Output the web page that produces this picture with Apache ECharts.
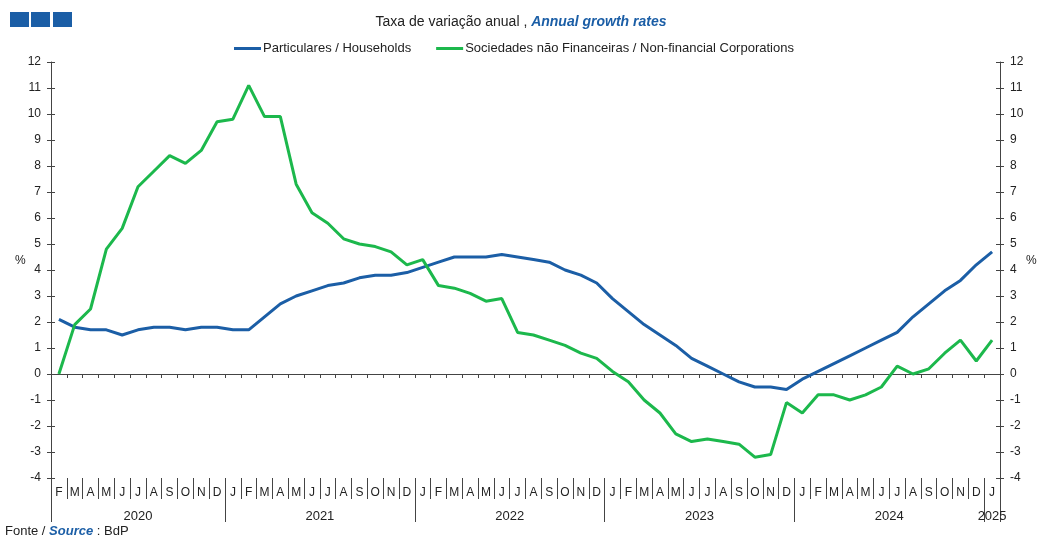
<!DOCTYPE html>
<html>
<head>
<meta charset="utf-8">
<script src="https://cdn.jsdelivr.net/npm/echarts@6/dist/echarts.min.js"></script>
<style>
html,body{margin:0;padding:0;background:#fff;}
#chart{width:1042px;height:538px;}
</style>
</head>
<body>
<div id="chart"></div>
<script>
// Months Feb 2020 .. Jan 2025
const months = ['F','M','A','M','J','J','A','S','O','N','D',
  'J','F','M','A','M','J','J','A','S','O','N','D',
  'J','F','M','A','M','J','J','A','S','O','N','D',
  'J','F','M','A','M','J','J','A','S','O','N','D',
  'J','F','M','A','M','J','J','A','S','O','N','D',
  'J'];
const years = ['2020','2021','2022','2023','2024','2025'];
const yearLabelPos = [5.5, 17, 29, 41, 53, 59.5];
const yearBoundaries = [0, 11, 23, 35, 47, 59, 60];

const households = [2.1,1.8,1.7,1.7,1.5,1.7,1.8,1.8,1.7,1.8,1.8,
  1.7,1.7,2.2,2.7,3.0,3.2,3.4,3.5,3.7,3.8,3.8,3.9,
  4.1,4.3,4.5,4.5,4.5,4.6,4.5,4.4,4.3,4.0,3.8,3.5,
  2.9,2.4,1.9,1.5,1.1,0.6,0.3,0.0,-0.3,-0.5,-0.5,-0.6,
  -0.2,0.1,0.4,0.7,1.0,1.3,1.6,2.2,2.7,3.2,3.6,4.2,
  4.7];
const nfc = [0.0,1.9,2.5,4.8,5.6,7.2,7.8,8.4,8.1,8.6,9.7,
  9.8,11.1,9.9,9.9,7.3,6.2,5.8,5.2,5.0,4.9,4.7,4.2,
  4.4,3.4,3.3,3.1,2.8,2.9,1.6,1.5,1.3,1.1,0.8,0.6,
  0.1,-0.3,-1.0,-1.5,-2.3,-2.6,-2.5,-2.6,-2.7,-3.2,-3.1,-1.1,
  -1.5,-0.8,-0.8,-1.0,-0.8,-0.5,0.3,0.0,0.2,0.8,1.3,0.5,
  1.3];

const BLUE = '#1b5ea6';
const GREEN = '#1cb84c';
const AX = '#444';
const FONT = 'Liberation Sans, Arial, sans-serif';

const chart = echarts.init(document.getElementById('chart'), null, {renderer:'canvas'});
const yBase = {
  type:'value', min:-4, max:12, interval:1,
  splitLine:{show:false},
  axisLine:{show:true, lineStyle:{color:AX, width:1}},
  axisTick:{show:true, length:4, lineStyle:{color:AX}},
  axisLabel:{color:'#222', fontSize:12, fontFamily:FONT, margin:10}
};
const yInner = {
  type:'value', min:-4, max:12, interval:1,
  splitLine:{show:false},
  axisLine:{show:false},
  axisTick:{show:true, inside:true, length:4, lineStyle:{color:AX}},
  axisLabel:{show:false}
};
chart.setOption({
  animation:false,
  backgroundColor:'#fff',
  title:{
    left:'center', top:10,
    text:'{a|Taxa de variação anual , }{b|Annual growth rates}',
    textStyle:{
      fontWeight:'normal',
      rich:{
        a:{fontSize:14, color:'#222', fontWeight:'normal', fontFamily:FONT},
        b:{fontSize:14, color:BLUE, fontWeight:'bold', fontStyle:'italic', fontFamily:FONT}
      }
    }
  },
  legend:{
    left:229, top:37,
    itemWidth:27, itemHeight:3, itemGap:25,
    icon:'rect',
    textStyle:{fontSize:13, color:'#222', fontFamily:FONT, padding:[0,0,0,-3]},
    data:['Particulares / Households','Sociedades não Financeiras / Non-financial Corporations']
  },
  grid:{left:51, right:42, top:62, height:416, containLabel:false},
  xAxis:[
    { // zero line axis with small ticks
      type:'category', data:months, boundaryGap:true, position:'bottom',
      axisLine:{show:true, onZero:true, lineStyle:{color:AX, width:1}},
      axisTick:{show:true, interval:0, length:4, lineStyle:{color:AX}},
      axisLabel:{show:false}, splitLine:{show:false}
    },
    { // month labels at bottom
      type:'category', data:months, boundaryGap:true, position:'bottom',
      axisLine:{show:false, onZero:false},
      axisTick:{show:true, interval:0, length:21, lineStyle:{color:AX}},
      axisLabel:{show:true, interval:0, color:'#222', fontSize:12, fontFamily:FONT, margin:9},
      splitLine:{show:false}
    },
    { // year labels
      type:'value', min:0, max:60, position:'bottom',
      axisLine:{show:false, onZero:false},
      axisTick:{show:true, length:44, customValues:yearBoundaries, lineStyle:{color:AX}},
      axisLabel:{show:true, customValues:yearLabelPos, color:'#222', fontSize:13, fontFamily:FONT, margin:32,
        formatter:function(v){ return years[yearLabelPos.indexOf(v)] || ''; }},
      splitLine:{show:false}
    }
  ],
  yAxis:[
    Object.assign({}, yBase, {position:'left'}),
    Object.assign({}, yBase, {position:'right'}),
    Object.assign({}, yInner, {position:'left'}),
    Object.assign({}, yInner, {position:'right'})
  ],
  graphic:[
    {type:'rect', shape:{x:10,y:12,width:19,height:15}, style:{fill:BLUE}},
    {type:'rect', shape:{x:31,y:12,width:19,height:15}, style:{fill:BLUE}},
    {type:'rect', shape:{x:53,y:12,width:19,height:15}, style:{fill:BLUE}},
    {type:'text', left:15, top:255, style:{text:'%', fill:'#222', font:'12px ' + FONT}},
    {type:'text', left:1026, top:255, style:{text:'%', fill:'#222', font:'12px ' + FONT}},
    {type:'text', left:5, top:525, style:{
      text:'{a|Fonte / }{b|Source}{a| : BdP}',
      rich:{
        a:{fontSize:13, fill:'#222', fontFamily:FONT},
        b:{fontSize:13, fill:BLUE, fontWeight:'bold', fontStyle:'italic', fontFamily:FONT}
      }
    }}
  ],
  series:[
    {name:'Particulares / Households', type:'line', data:households, xAxisIndex:0, yAxisIndex:0,
      symbol:'none', lineStyle:{color:BLUE, width:3}, itemStyle:{color:BLUE}},
    {name:'Sociedades não Financeiras / Non-financial Corporations', type:'line', data:nfc, xAxisIndex:0, yAxisIndex:0,
      symbol:'none', lineStyle:{color:GREEN, width:3}, itemStyle:{color:GREEN}}
  ]
});
</script>
</body>
</html>
